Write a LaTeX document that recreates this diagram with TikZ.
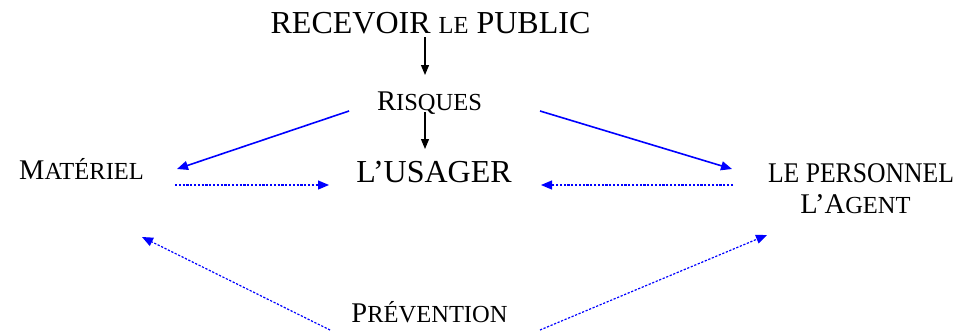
\documentclass[tikz,border=0pt]{standalone}
\usepackage{fontspec}
\usepackage{graphicx}
\setmainfont{Liberation Serif}
\usetikzlibrary{arrows.meta}
\newcommand{\bigf}{\fontsize{32}{35}\selectfont}
\newcommand{\medf}{\fontsize{28.5}{31}\selectfont}
\newcommand{\smf}{\fontsize{24.5}{27}\selectfont}
\definecolor{pblue}{RGB}{0,0,255}
\begin{document}
\begin{tikzpicture}[x=1pt,y=-1pt,
  lbl/.style={inner sep=0pt,anchor=base},
  blk/.style={draw=black,line width=1.2pt,-{Triangle[length=10pt,width=8pt]}},
  bsolid/.style={draw=pblue,line width=1.6pt,-{Triangle[length=11pt,width=9pt]}},
  bdot/.style={draw=pblue,line width=1.2pt,dash pattern=on 2.2pt off 1.6pt,-{Triangle[length=11pt,width=9pt,fill=pblue]}}]
\useasboundingbox (0,0) rectangle (963,330);
\node[lbl] (recv) at (430.5,33) {\bigf RECEVOIR {\smf LE} PUBLIC};
\node[lbl] (risq) at (429.5,110) {\medf R{\smf ISQUES}};
\node[lbl] (usag) at (434,182) {\bigf L’USAGER};
\node[lbl] (mat) at (81.5,179) {\medf M{\smf ATÉRIEL}};
\node[lbl] (pers) at (861,182) {\scalebox{0.9}[1]{\medf LE PERSONNEL}};
\node[lbl] (agent) at (855.5,213) {\medf L’A{\smf GENT}};
\node[lbl] (prev) at (429.5,322) {\medf P{\smf RÉVENTION}};
% connector end points
\coordinate (a1s) at (425,37);  \coordinate (a1e) at (425,75);
\coordinate (a2s) at (425,112); \coordinate (a2e) at (425,149);
\coordinate (b1s) at (349,111); \coordinate (b1e) at (177,169);
\coordinate (b2s) at (540,111); \coordinate (b2e) at (732,169);
\coordinate (d1s) at (175,185); \coordinate (d1e) at (329,185);
\coordinate (d2s) at (733,185); \coordinate (d2e) at (541,185);
\coordinate (d3s) at (330,330); \coordinate (d3e) at (142,237);
\coordinate (d4s) at (540,330); \coordinate (d4e) at (767,235);
\draw[blk] (a1s) -- (a1e);
\draw[blk] (a2s) -- (a2e);
\draw[bsolid] (b1s) -- (b1e);
\draw[bsolid] (b2s) -- (b2e);
\draw[bdot] (d1s) -- (d1e);
\draw[bdot] (d2s) -- (d2e);
\draw[bdot] (d3s) -- (d3e);
\draw[bdot] (d4s) -- (d4e);
\end{tikzpicture}
\end{document}
